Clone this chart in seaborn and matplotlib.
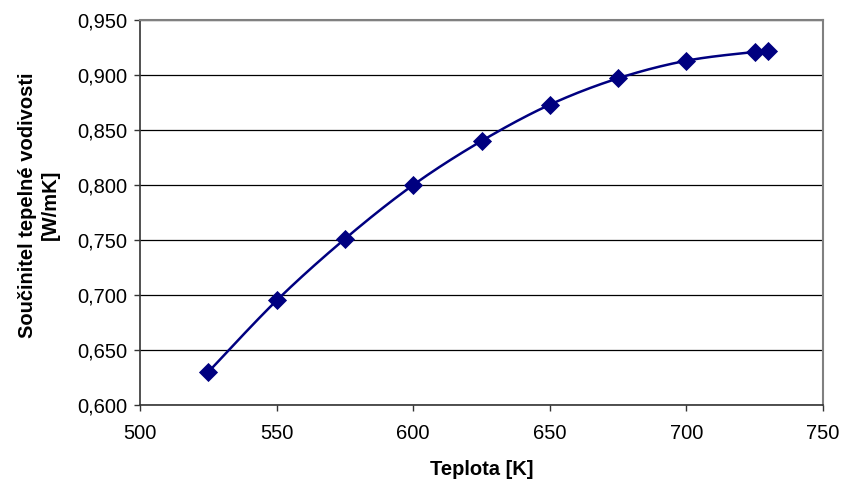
import numpy as np
import pandas as pd
import matplotlib
matplotlib.use("Agg")
import matplotlib.pyplot as plt
from matplotlib.ticker import FuncFormatter, MultipleLocator
import seaborn as sns

# Data
teplota = [525, 550, 575, 600, 625, 650, 675, 700, 725, 730]
vodivost = [0.630, 0.695, 0.751, 0.800, 0.840, 0.873, 0.897, 0.913, 0.921, 0.922]
x_label = "Teplota [K]"
y_label = "Součinitel tepelné vodivosti\n[W/mK]"

sns.set_theme(style="white")
plt.rcParams['font.family'] = ['Liberation Sans', 'DejaVu Sans']

fig = plt.figure(figsize=(8.43, 4.86), dpi=100)
ax = fig.add_axes([140/843, 81/486, 683/843, 385/486])

# Smoothed line (Catmull-Rom through the data points, like Excel's smoothed line)
def catmull_rom(xs, ys, n=30):
    xs = np.asarray(xs, float); ys = np.asarray(ys, float)
    px = np.concatenate([[xs[0]], xs, [xs[-1]]])
    py = np.concatenate([[ys[0]], ys, [ys[-1]]])
    out_x, out_y = [], []
    for i in range(1, len(px) - 2):
        p0 = np.array([px[i-1], py[i-1]]); p1 = np.array([px[i], py[i]])
        p2 = np.array([px[i+1], py[i+1]]); p3 = np.array([px[i+2], py[i+2]])
        c1 = p1 + (p2 - p0) / 6.0
        c2 = p2 - (p3 - p1) / 6.0
        t = np.linspace(0, 1, n)[:, None]
        pts = ((1-t)**3)*p1 + 3*((1-t)**2)*t*c1 + 3*(1-t)*(t**2)*c2 + (t**3)*p2
        out_x.extend(pts[:, 0]); out_y.extend(pts[:, 1])
    return np.array(out_x), np.array(out_y)

sx, sy = catmull_rom(teplota, vodivost)
pts = pd.DataFrame({"x": teplota, "y": vodivost})

ax.plot(sx, sy, color="#000080", linewidth=1.8, zorder=3)
sns.scatterplot(data=pts, x="x", y="y", ax=ax, marker="D", s=95,
                color="#000080", edgecolor="#000080", linewidth=0, zorder=4)

ax.set_xlim(500, 750)
ax.set_ylim(0.6, 0.95)
ax.xaxis.set_major_locator(MultipleLocator(50))
ax.yaxis.set_major_locator(MultipleLocator(0.05))
ax.yaxis.set_major_formatter(FuncFormatter(lambda v, p: f"{v:.3f}".replace('.', ',')))
ax.xaxis.set_major_formatter(FuncFormatter(lambda v, p: f"{v:.0f}"))

ax.grid(axis="y", color="black", linewidth=0.9)
ax.grid(axis="x", visible=False)
ax.set_axisbelow(True)

for s in ["top", "right"]:
    ax.spines[s].set_color("#808080")
    ax.spines[s].set_linewidth(1.5)
for s in ["left", "bottom"]:
    ax.spines[s].set_color("#333333")
    ax.spines[s].set_linewidth(1.2)

ax.tick_params(axis="both", which="major", direction="out", length=4, width=1,
               color="#333333", labelsize=14.5, labelcolor="black", bottom=True, left=True)
ax.tick_params(axis="x", pad=10)
ax.tick_params(axis="y", pad=5)

ax.set_xlabel(x_label, fontsize=14.5, fontweight="bold", labelpad=12, color="black")
ax.set_ylabel(y_label, fontsize=14.5, fontweight="bold", labelpad=12, linespacing=1.2,
              color="black")
ax.yaxis.set_label_coords(-0.118, 0.52)

fig.savefig("out.png", dpi=100, facecolor="white")
